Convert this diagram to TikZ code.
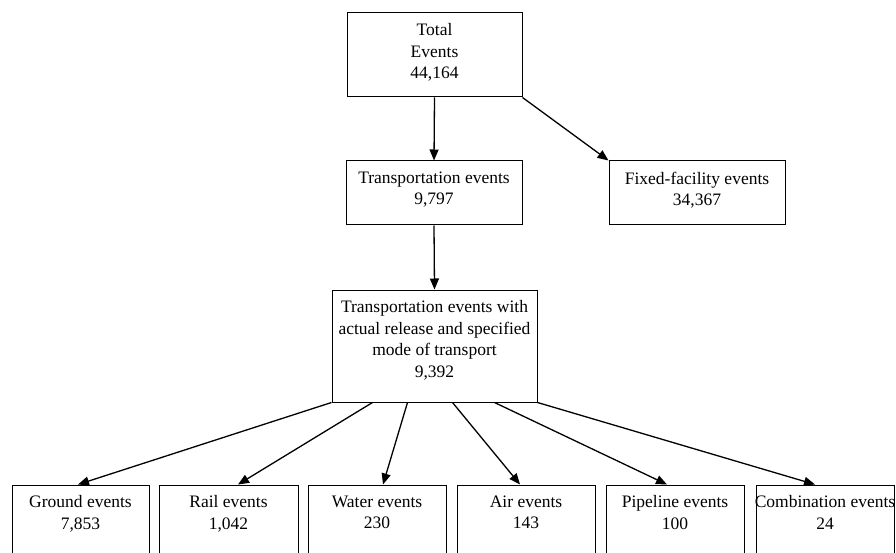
\documentclass[tikz,border=0pt]{standalone}
\usepackage{fontspec}
\setmainfont{Liberation Serif}
\usetikzlibrary{arrows.meta}
\begin{document}
\begin{tikzpicture}[x=1pt,y=-1pt,
  box/.style={draw, line width=1pt, inner sep=0pt},
  lbl/.style={anchor=north, align=center, inner sep=0pt, font=\fontsize{17.5}{21.5}\selectfont},
  arr/.style={line width=1.3pt, -{Triangle[length=11pt,width=9pt]}}]
\useasboundingbox (0,0) rectangle (896,553);
\clip (0,0) rectangle (896,553);
% boxes
\node[box, minimum width=175pt, minimum height=84pt] (top) at (434.5,55) {};
\node[box, minimum width=176pt, minimum height=64pt] (trans) at (434,193) {};
\node[box, minimum width=176pt, minimum height=64pt] (fixed) at (697,193) {};
\node[box, minimum width=205pt, minimum height=112pt] (mid) at (434.5,346) {};
\node[box, minimum width=137pt, minimum height=95pt] (ground) at (80.5,532.5) {};
\node[box, minimum width=139pt, minimum height=95pt] (rail) at (228.5,532.5) {};
\node[box, minimum width=138pt, minimum height=95pt] (water) at (377,532.5) {};
\node[box, minimum width=138pt, minimum height=95pt] (air) at (526,532.5) {};
\node[box, minimum width=138pt, minimum height=95pt] (pipe) at (675,532.5) {};
\node[box, minimum width=138pt, minimum height=95pt] (combo) at (825,532.5) {};
% labels
\node[lbl] (topT) at ([yshift=-11pt]top.north) {Total\\Events\\44,164};
\node[lbl] (transT) at ([yshift=-11pt]trans.north) {Transportation events\\9,797};
\node[lbl] (fixedT) at ([yshift=-11pt]fixed.north) {Fixed-facility events\\34,367};
\node[lbl] (midT) at ([yshift=-11pt]mid.north) {Transportation events with\\actual release and specified\\mode of transport\\9,392};
\node[lbl] (groundT) at ([yshift=-11pt]ground.north) {Ground events\\7,853};
\node[lbl] (railT) at ([yshift=-11pt]rail.north) {Rail events\\1,042};
\node[lbl] (waterT) at ([yshift=-11pt]water.north) {Water events\\230};
\node[lbl] (airT) at ([yshift=-11pt]air.north) {Air events\\143};
\node[lbl] (pipeT) at ([yshift=-11pt]pipe.north) {Pipeline events\\100};
\node[lbl] (comboT) at ([yshift=-11pt]combo.north) {Combination events\\24};
% connectors
\draw[arr] (top.south) -- (trans.north);
\draw[arr] (top.south east) -- (fixed.north west);
\draw[arr] (trans.south) -- (mid.north);
\draw[arr] (mid.south west) -- ([xshift=-2.5pt]ground.north);
\draw[arr] ([xshift=41pt]mid.south west) -- ([xshift=9.5pt]rail.north);
\draw[arr] ([xshift=76pt]mid.south west) -- ([xshift=6pt]water.north);
\draw[arr] ([xshift=121pt]mid.south west) -- ([xshift=-6pt]air.north);
\draw[arr] ([xshift=163pt]mid.south west) -- ([xshift=-8pt]pipe.north);
\draw[arr] (mid.south east) -- ([xshift=-10pt]combo.north);
\end{tikzpicture}
\end{document}
